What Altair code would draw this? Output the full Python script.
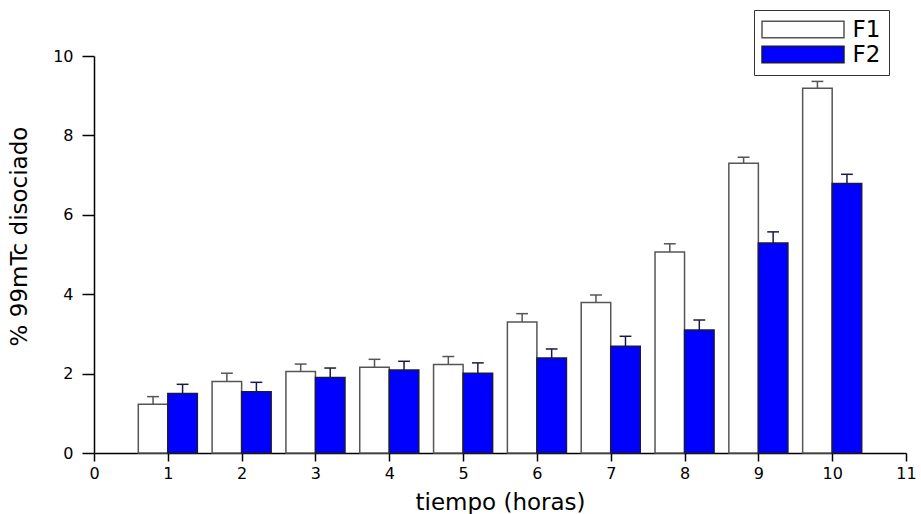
import altair as alt
import pandas as pd

hours = [1, 2, 3, 4, 5, 6, 7, 8, 9, 10]
f1 = [1.23, 1.80, 2.05, 2.16, 2.23, 3.30, 3.79, 5.06, 7.30, 9.19]
f1_err = [0.19, 0.21, 0.19, 0.20, 0.20, 0.21, 0.19, 0.21, 0.15, 0.17]
f2 = [1.50, 1.54, 1.90, 2.09, 2.01, 2.39, 2.69, 3.10, 5.29, 6.79]
f2_err = [0.23, 0.24, 0.24, 0.22, 0.26, 0.23, 0.25, 0.25, 0.28, 0.23]
series = ["F1", "F2"]
y_ticks = [0, 1, 2, 3, 4, 5, 6, 7, 8, 9, 10]
x_ticks = [i * 0.5 for i in range(23)]

rows = []
for h, v, e in zip(hours, f1, f1_err):
    rows.append({"hour": h, "series": "F1", "value": v, "err": e})
for h, v, e in zip(hours, f2, f2_err):
    rows.append({"hour": h, "series": "F2", "value": v, "err": e})
df = pd.DataFrame(rows)

FONT = "DejaVu Sans"

base = alt.Chart(df).transform_calculate(
    xc="datum.hour + (datum.series == 'F1' ? -0.2 : 0.2)"
).transform_calculate(
    x0="datum.xc - 0.2", x1="datum.xc + 0.2",
    c0="datum.xc - 0.08", c1="datum.xc + 0.08",
    top="datum.value + datum.err",
)

xscale = alt.Scale(domain=[0, 11], nice=False, zero=False)
yscale = alt.Scale(domain=[0, 10], nice=False)

xaxis = alt.Axis(
    values=x_ticks, title="tiempo (horas)", grid=False,
    labelExpr="datum.value % 1 === 0 ? datum.label : ''",
    tickSize={"condition": {"test": "datum.value % 1 === 0", "value": 8}, "value": 4},
    labelFlush=False, labelOverlap=False, format="d",
    labelFont=FONT, labelFontSize=16, labelColor="black", labelPadding=4,
    titleFont=FONT, titleFontSize=23, titleFontWeight="normal", titleColor="black",
    titleY=56, titleBaseline="alphabetic",
    domainColor="black", tickColor="black", domainWidth=1.5, tickWidth=1.5,
)
yaxis = alt.Axis(
    values=y_ticks, title="% 99mTc disociado", grid=False,
    labelExpr="datum.value % 2 === 0 ? datum.label : ''",
    tickSize={"condition": {"test": "datum.value % 2 === 0", "value": 12}, "value": 6},
    labelFlush=False, labelOverlap=False, format="d",
    labelFont=FONT, labelFontSize=16, labelColor="black", labelPadding=9,
    titleFont=FONT, titleFontSize=23, titleFontWeight="normal", titleColor="black",
    titleX=-68, titleY=180, titleBaseline="alphabetic",
    domainColor="black", tickColor="black", domainWidth=1.5, tickWidth=1.5,
)

stroke_scale = alt.Scale(domain=series, range=["#555555", "#1a1a40"])

bars = base.mark_bar(strokeWidth=1.5).encode(
    x=alt.X("x0:Q", scale=xscale, axis=xaxis),
    x2="x1:Q",
    y=alt.Y("value:Q", scale=yscale, axis=yaxis),
    y2=alt.datum(0),
    fill=alt.Fill("series:N", scale=alt.Scale(domain=series, range=["#ffffff", "#0000ff"]),
                  legend=alt.Legend(
                      title=None, orient="none", legendX=660, legendY=-46,
                      padding=8, strokeColor="#333333", fillColor="white",
                      symbolType="M-4,-0.8H4V0.8H-4Z", symbolSize=420,
                      symbolOffset=29.5,
                      symbolStrokeColor="#333333", symbolStrokeWidth=1.5,
                      labelFont=FONT, labelFontSize=23, labelColor="black",
                      labelOffset=38, rowPadding=1,
                      labelExpr="datum.label + '\u00a0\u00a0'",
                  )),
    stroke=alt.Stroke("series:N", scale=stroke_scale, legend=None),
)

stems = base.mark_rule(strokeWidth=1.5).encode(
    x="xc:Q", y="value:Q", y2="top:Q",
    stroke=alt.Stroke("series:N", scale=stroke_scale, legend=None),
)
caps = base.mark_rule(strokeWidth=1.5).encode(
    x="c0:Q", x2="c1:Q", y="top:Q",
    stroke=alt.Stroke("series:N", scale=stroke_scale, legend=None),
)

chart = alt.layer(bars, stems, caps).properties(
    width=812, height=397,
    padding={"left": 94, "top": 56, "right": 15, "bottom": 61},
    autosize=alt.AutoSizeParams(type="none"),
    background="white",
).configure_view(stroke=None)

chart.save("out.html", embed_options={"renderer": "svg", "actions": False})
